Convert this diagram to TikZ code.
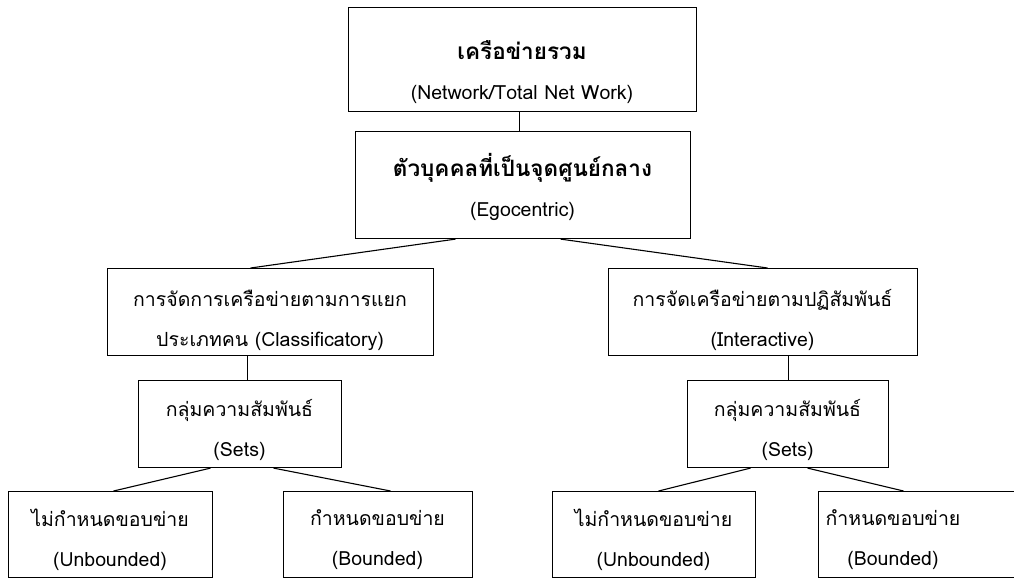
\documentclass[tikz,border=0pt]{standalone}
\usepackage{fontspec}
\setmainfont[Script=Thai]{Loma}
\newcommand\duoline[2]{\begin{tabular}{@{}c@{}}#1\\[16pt]#2\end{tabular}}
\newcommand\bigthai[1]{{\fontsize{22.5}{24}\selectfont\bfseries #1}}
\begin{document}
\begin{tikzpicture}[x=1pt,y=-1pt,
  box/.style={draw, line width=1.1pt, anchor=north west, inner sep=0pt},
  txt/.style={inner sep=0pt, font=\fontsize{19.5}{24}\selectfont},
  link/.style={line width=1.1pt}]
\useasboundingbox (0,0) rectangle (1014,578);
% boxes
\node[box, minimum width=348pt, minimum height=104pt] (b1) at (348,7) {};
\node[box, minimum width=335pt, minimum height=107pt] (b2) at (355,131) {};
\node[box, minimum width=326pt, minimum height=87pt] (b3) at (107,268) {};
\node[box, minimum width=309pt, minimum height=87pt] (b7) at (608,268) {};
\node[box, minimum width=203pt, minimum height=87pt] (b4) at (138,380) {};
\node[box, minimum width=201pt, minimum height=87pt] (b8) at (687,380) {};
\node[box, minimum width=204pt, minimum height=86pt] (b5) at (8,491) {};
\node[box, minimum width=189pt, minimum height=86pt] (b6) at (283,491) {};
\node[box, minimum width=203pt, minimum height=86pt] (b9) at (552,491) {};
\node[box, minimum width=230pt, minimum height=86pt] (b10) at (818,491) {};
% texts
\node[txt] (t1) at (522,74) {\duoline{\bigthai{เครือข่ายรวม}}{(Network/Total Net Work)}};
\node[txt] (t2) at (522.5,189) {\duoline{\bigthai{ตัวบุคคลที่เป็นจุดศูนย์กลาง}}{(Egocentric)}};
\node[txt] (t3) at (270,321.5) {\duoline{การจัดการเครือข่ายตามการแยก}{ประเภทคน (Classificatory)}};
\node[txt] (t7) at (762.5,321.5) {\duoline{การจัดเครือข่ายตามปฏิสัมพันธ์}{(Interactive)}};
\node[txt] (t4) at (239.5,432) {\duoline{กลุ่มความสัมพันธ์}{(Sets)}};
\node[txt] (t8) at (787.5,432) {\duoline{กลุ่มความสัมพันธ์}{(Sets)}};
\node[txt] (t5) at (110,541) {\duoline{ไม่กำหนดขอบข่าย}{(Unbounded)}};
\node[txt] (t6) at (377.5,541) {\duoline{กำหนดขอบข่าย}{(Bounded)}};
\node[txt] (t9) at (653.5,541) {\duoline{ไม่กำหนดขอบข่าย}{(Unbounded)}};
\node[txt] (t10) at (893,541) {\duoline{กำหนดขอบข่าย}{(Bounded)}};
% connectors
\draw[link] ([xshift=-3pt]b1.south) -- ([xshift=-3pt]b1.south |- b2.north);
\draw[link] ([xshift=-67.5pt]b2.south) -- ([xshift=-20pt]b3.north);
\draw[link] ([xshift=37.5pt]b2.south) -- ([xshift=4.5pt]b7.north);
\draw[link] ([xshift=7.5pt]b4.north) -- ([xshift=7.5pt]b4.north |- b3.south);
\draw[link] (b8.north) -- (b8.north |- b7.south);
\draw[link] ([xshift=-29.5pt]b4.south) -- ([xshift=3pt]b5.north);
\draw[link] ([xshift=33.5pt]b4.south) -- ([xshift=12.5pt]b6.north);
\draw[link] ([xshift=-37.5pt]b8.south) -- ([xshift=4.5pt]b9.north);
\draw[link] ([xshift=19.5pt]b8.south) -- ([xshift=-30pt]b10.north);
\end{tikzpicture}
\end{document}
